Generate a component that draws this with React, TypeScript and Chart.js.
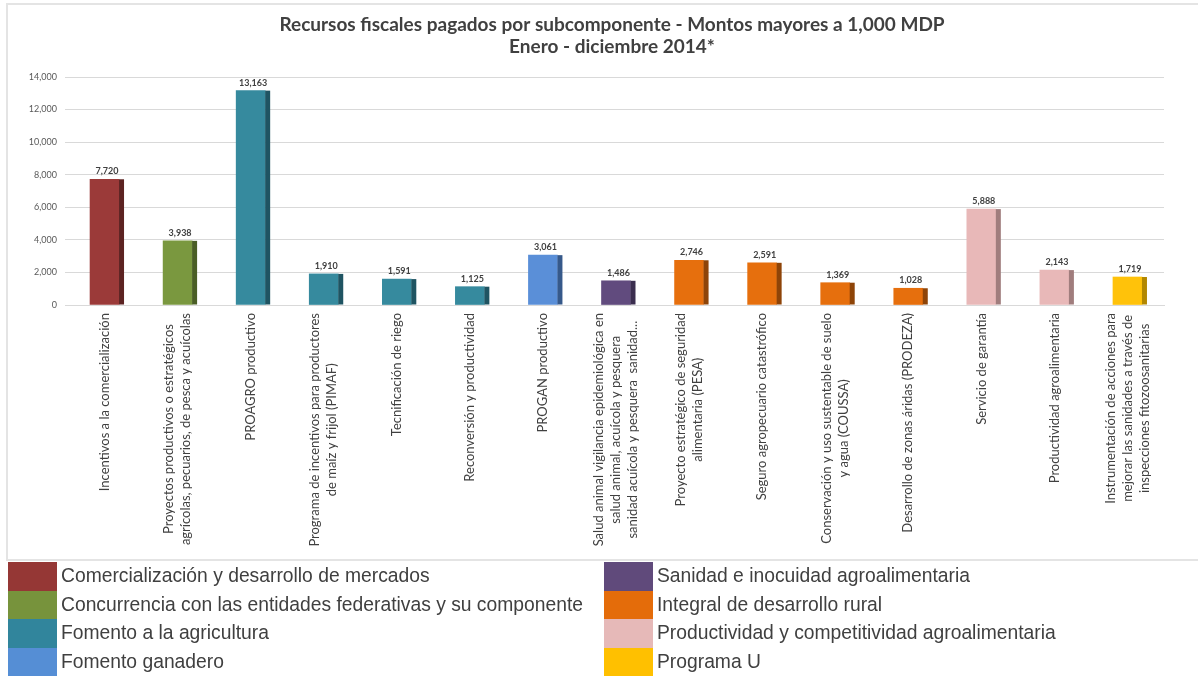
import React, { useEffect, useRef } from "react";
import { Chart, registerables } from "chart.js";

Chart.register(...registerables);

const titleLines = [
  "Recursos fiscales pagados por subcomponente - Montos mayores a 1,000 MDP",
  "Enero - diciembre 2014*",
];

const categories: string[][] = [
  ["Incentivos a la comercialización"],
  ["Proyectos productivos o estratégicos", "agrícolas, pecuarios, de pesca y acuícolas"],
  ["PROAGRO productivo"],
  ["Programa de incentivos para productores", "de maíz y frijol (PIMAF)"],
  ["Tecnificación de riego"],
  ["Reconversión y productividad"],
  ["PROGAN productivo"],
  ["Salud animal vigilancia epidemiológica en", "salud animal, acuícola y pesquera", "sanidad acuícola y pesquera  sanidad..."],
  ["Proyecto estratégico de seguridad", "alimentaria (PESA)"],
  ["Seguro agropecuario catastrófico"],
  ["Conservación y uso sustentable de suelo", "y agua (COUSSA)"],
  ["Desarrollo de zonas áridas (PRODEZA)"],
  ["Servicio de garantía"],
  ["Productividad agroalimentaria"],
  ["Instrumentación de acciones para", "mejorar las sanidades a través de", "inspecciones fitozoosanitarias"],
];

const values = [7720, 3938, 13163, 1910, 1591, 1125, 3061, 1486, 2746, 2591, 1369, 1028, 5888, 2143, 1719];

const groupIndex = [0, 1, 2, 2, 2, 2, 3, 4, 5, 5, 5, 5, 6, 6, 7];

const groupNames = [
  "Comercialización y desarrollo de mercados",
  "Concurrencia con las entidades federativas y su componente",
  "Fomento a la agricultura",
  "Fomento ganadero",
  "Sanidad e inocuidad agroalimentaria",
  "Integral de desarrollo rural",
  "Productividad y competitividad agroalimentaria",
  "Programa U",
];

const groupColors = ["#9B3A39", "#7A983F", "#368A9E", "#5A8FD8", "#614B7E", "#E66F0D", "#E8B8B8", "#FFC20A"];
const legendColors = ["#953735", "#77933C", "#31859C", "#558ED5", "#604A7B", "#E46C0A", "#E6B9B8", "#FFC000"];
const sideColors = ["#5C2322", "#4A5E26", "#1F5462", "#36598A", "#3B2E4F", "#8E4408", "#A07D7D", "#B28700"];

const yMin = 0;
const yMax = 14000;
const yStep = 2000;

const fmt = (v: number) => Number(v).toLocaleString("en-US");

const sidePlugin = {
  id: "sideFaces",
  afterDatasetsDraw(chart: any) {
    const ctx = chart.ctx;
    const meta = chart.getDatasetMeta(0);
    meta.data.forEach((bar: any, i: number) => {
      const p = bar.getProps(["x", "y", "base", "width"], true);
      ctx.save();
      ctx.fillStyle = sideColors[groupIndex[i]];
      ctx.fillRect(p.x + p.width / 2, p.y, 5, p.base - p.y);
      ctx.restore();
    });
  },
};

const valueLabelPlugin = {
  id: "valueLabels",
  afterDatasetsDraw(chart: any) {
    const ctx = chart.ctx;
    const meta = chart.getDatasetMeta(0);
    ctx.save();
    ctx.font = "bold 9px Lato";
    ctx.fillStyle = "#404040";
    ctx.textAlign = "center";
    ctx.textBaseline = "middle";
    meta.data.forEach((bar: any, i: number) => {
      const p = bar.getProps(["x", "y"], true);
      ctx.fillText(fmt(values[i]), p.x + 2.5, p.y - 8);
    });
    ctx.restore();
  },
};

const titlePlugin = {
  id: "twoLineTitle",
  afterDraw(chart: any) {
    const ctx = chart.ctx;
    ctx.save();
    ctx.font = "bold 19px Lato";
    ctx.fillStyle = "#404040";
    ctx.textAlign = "center";
    ctx.textBaseline = "middle";
    titleLines.forEach((t, i) => ctx.fillText(t, 612, 25 + i * 22));
    ctx.restore();
  },
};

const xLabelPlugin = {
  id: "xLabels",
  afterDraw(chart: any) {
    const ctx = chart.ctx;
    const xs = chart.scales.x;
    const top = chart.chartArea.bottom + 8;
    const lh = 17;
    ctx.save();
    ctx.font = "13px Lato";
    ctx.fillStyle = "#404040";
    ctx.textAlign = "center";
    ctx.textBaseline = "middle";
    categories.forEach((lines, i) => {
      const cx = xs.getPixelForValue(i);
      const maxW = Math.max(...lines.map((l) => ctx.measureText(l).width));
      ctx.save();
      ctx.translate(cx, top);
      ctx.rotate(-Math.PI / 2);
      lines.forEach((l, j) => {
        ctx.fillText(l, -maxW / 2, (j - (lines.length - 1) / 2) * lh);
      });
      ctx.restore();
    });
    ctx.restore();
  },
};

export default function App() {
  const ref = useRef<HTMLCanvasElement | null>(null);

  useEffect(() => {
    const canvas = ref.current;
    if (!canvas) return;
    const chart = new Chart(canvas, {
      type: "bar",
      data: {
        labels: categories.map((l) => l.join(" ")),
        datasets: [
          {
            label: "Recursos fiscales pagados",
            data: values,
            backgroundColor: groupIndex.map((g) => groupColors[g]),
            borderWidth: 0,
            barThickness: 29,
          },
        ],
      },
      options: {
        animation: false,
        responsive: false,
        maintainAspectRatio: false,
        layout: { padding: { top: 77, right: 34, left: 0, bottom: 0 } },
        plugins: {
          legend: { display: false },
          title: { display: false },
          tooltip: { enabled: false },
        },
        scales: {
          x: {
            grid: { display: false },
            border: { display: true, color: "#D9D9D9", width: 1 },
            ticks: { display: false },
            afterFit: (s: any) => {
              s.height = 255;
            },
          },
          y: {
            min: yMin,
            max: yMax,
            ticks: {
              stepSize: yStep,
              padding: 8,
              color: "#595959",
              font: { family: "Lato", size: 9 },
              callback: (v: any) => fmt(Number(v)),
            },
            grid: { color: "#D9D9D9", tickLength: 3, drawTicks: true },
            border: { display: false },
            afterFit: (s: any) => {
              s.width = 68;
            },
          },
        },
      } as any,
      plugins: [sidePlugin, valueLabelPlugin, titlePlugin, xLabelPlugin],
    });
    return () => chart.destroy();
  }, []);

  const col = (start: number) => (
    <div style={{ position: "absolute", top: 0, left: start === 0 ? 8 : 604 }}>
      {groupNames.slice(start, start + 4).map((n, k) => (
        <div key={n} style={{ display: "flex", alignItems: "center", height: 28.5 }}>
          <div style={{ width: 49, height: 28.5, background: legendColors[start + k] }} />
          <span
            style={{
              marginLeft: 4,
              fontFamily: "'Liberation Sans', Arial, sans-serif",
              fontSize: 19.3,
              color: "#404040",
              whiteSpace: "nowrap",
            }}
          >
            {n}
          </span>
        </div>
      ))}
    </div>
  );

  return (
    <div style={{ position: "absolute", left: 0, top: 0, width: 1198, height: 676, overflow: "hidden", background: "#fff" }}>
      <canvas ref={ref} width={1198} height={560} style={{ position: "absolute", left: 0, top: 0, width: 1198, height: 560 }} />
      <div
        style={{
          position: "absolute",
          left: 6,
          top: 3,
          width: 1192,
          height: 558,
          border: "2px solid #E4E4E4",
          borderRight: "none",
          boxSizing: "border-box",
          pointerEvents: "none",
        }}
      />
      <div style={{ position: "absolute", left: 0, top: 562, width: 1198, height: 114 }}>
        {col(0)}
        {col(4)}
      </div>
    </div>
  );
}
